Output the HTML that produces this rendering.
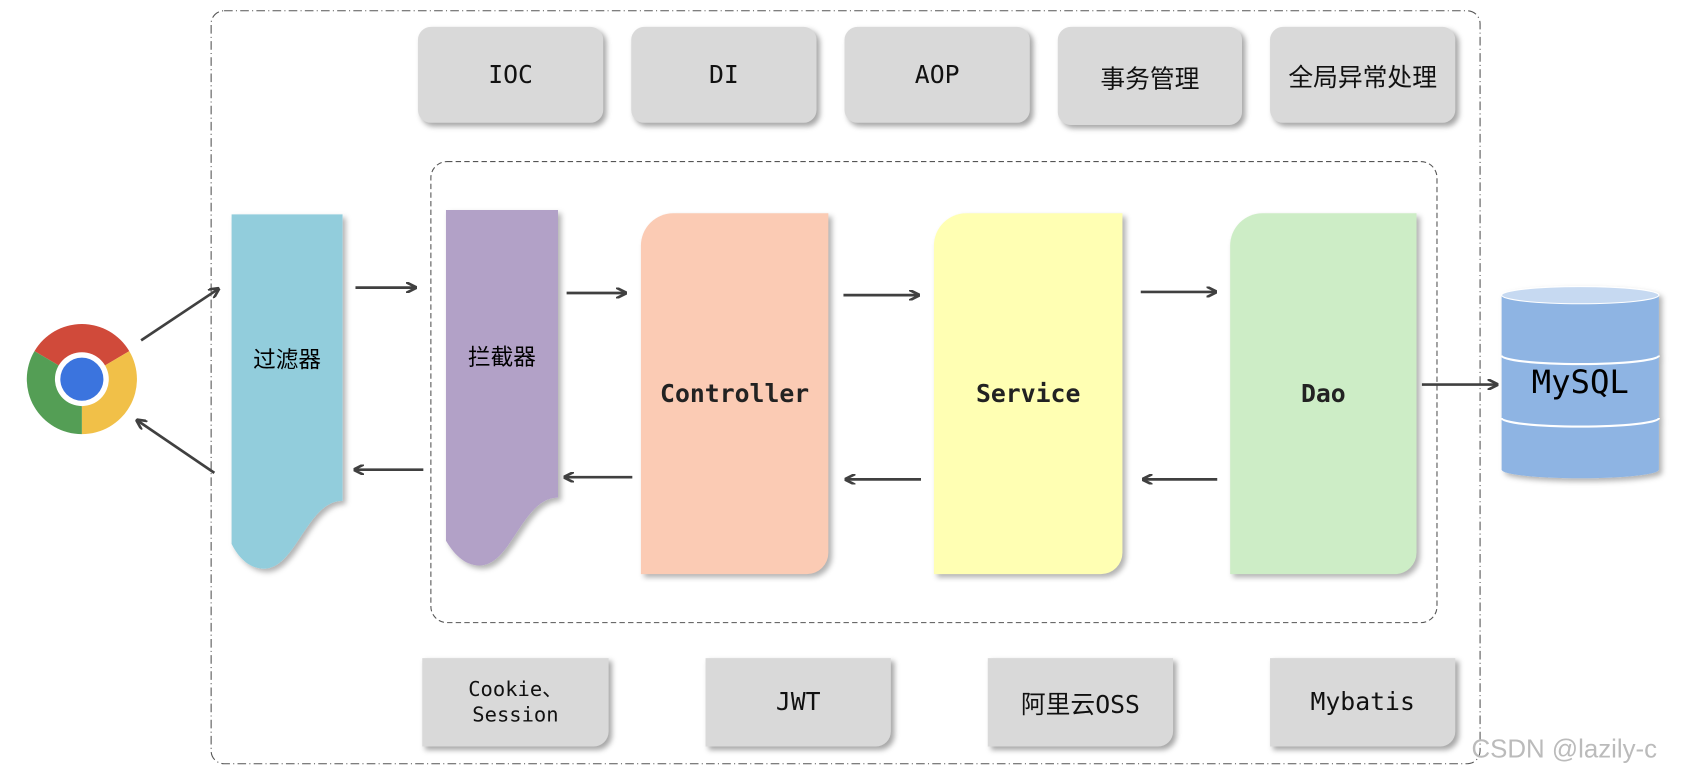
<!DOCTYPE html>
<html><head><meta charset="utf-8"><style>
body{margin:0;background:#fff;width:1689px;height:778px;overflow:hidden}
#w{position:absolute;left:0;top:0;width:1568px;height:722px;transform:scale(1.0772);transform-origin:0 0;font-family:"DejaVu Sans Mono","Liberation Mono","Noto Sans CJK SC",monospace}
.b{position:absolute;background:#d9d9d9;box-shadow:3px 3px 5px rgba(0,0,0,.35);display:flex;align-items:center;justify-content:center;font-size:23px;color:#111;text-align:center}
.t{border-radius:12px}
.bt{border-radius:0 0 14px 0}
.c{position:absolute;display:flex;align-items:center;justify-content:center;font-size:23px;font-weight:bold;color:#222;box-shadow:3px 3px 5px rgba(0,0,0,.3)}
</style></head><body><div id="w">
<svg width="1568" height="722" style="position:absolute;left:0;top:0">
<defs><marker id="a" markerWidth="10" markerHeight="10" refX="9" refY="5" orient="auto" markerUnits="userSpaceOnUse"><path d="M0,0 L10,5 L0,10" fill="none" stroke="#404040" stroke-width="2.5"/></marker>
<filter id="s"><feDropShadow dx="3" dy="3" stdDeviation="2.5" flood-opacity=".3"/></filter></defs>
<rect x="196" y="10" width="1178" height="699" rx="12" fill="none" stroke="#555" stroke-dasharray="8,3,1,3"/>
<rect x="400" y="150" width="934" height="428" rx="15" fill="none" stroke="#555" stroke-dasharray="5,3"/>
<path d="M215,199 H318 V465 C285,465 275,528 245,528 C230,528 220,515 215,505 Z" fill="#92cddc" filter="url(#s)"/>
<path d="M414,195 H518 V462 C485,462 475,525 445,525 C430,525 420,512 414,502 Z" fill="#b2a1c7" filter="url(#s)"/>
<g fill="none" stroke="#404040" stroke-width="2.5" marker-end="url(#a)">
<line x1="131" y1="316" x2="203" y2="268"/><line x1="199" y1="439" x2="127" y2="390"/>
<line x1="330" y1="267" x2="386" y2="267"/><line x1="393" y1="436" x2="329" y2="436"/>
<line x1="526" y1="272" x2="581" y2="272"/><line x1="587" y1="443" x2="524" y2="443"/>
<line x1="783" y1="274" x2="853" y2="274"/><line x1="855" y1="445" x2="785" y2="445"/>
<line x1="1059" y1="271" x2="1129" y2="271"/><line x1="1130" y1="445" x2="1061" y2="445"/>
<line x1="1320" y1="357" x2="1390" y2="357"/></g>
<g filter="url(#s)">
<path d="M1394,274 V436 A73,8 0 0 0 1540,436 V274 Z" fill="#8eb4e3"/>
<ellipse cx="1467" cy="274" rx="73" ry="8" fill="#c6d9f1" stroke="#fff"/>
<path d="M1394,330 A73,8 0 0 0 1540,330 M1394,388 A73,8 0 0 0 1540,388" fill="none" stroke="#fff" stroke-width="2"/>
</g>
<g transform="translate(76,352)">
<path d="M0,0 L-44,-26 A51,51 0 0 1 44,-26 Z" fill="#d04a3a"/>
<path d="M0,0 L44,-26 A51,51 0 0 1 0,51 Z" fill="#f1c048"/>
<path d="M0,0 L0,51 A51,51 0 0 1 -44,-26 Z" fill="#549e55"/>
<circle r="25" fill="#fff"/><circle r="20" fill="#3b74de"/></g>
<text x="1366" y="703" font-family="Liberation Sans" font-size="24" fill="#bbb">CSDN @lazily-c</text>
</svg>
<div class="b t" style="left:388px;top:25px;width:172px;height:89px">IOC</div>
<div class="b t" style="left:586px;top:25px;width:172px;height:89px">DI</div>
<div class="b t" style="left:784px;top:25px;width:172px;height:89px">AOP</div>
<div class="b t" style="left:982px;top:25px;width:171px;height:91px">事务管理</div>
<div class="b t" style="left:1179px;top:25px;width:172px;height:89px">全局异常处理</div>
<div style="position:absolute;left:215px;top:318px;width:103px;text-align:center;font-size:21px">过滤器</div>
<div style="position:absolute;left:414px;top:316px;width:104px;text-align:center;font-size:21px">拦截器</div>
<div class="c" style="left:595px;top:198px;width:174px;height:335px;background:#fbcbb4;border-radius:30px 0 20px 0">Controller</div>
<div class="c" style="left:867px;top:198px;width:175px;height:335px;background:#ffffb3;border-radius:30px 0 20px 0">Service</div>
<div class="c" style="left:1142px;top:198px;width:173px;height:335px;background:#cdedc6;border-radius:30px 0 20px 0">Dao</div>
<div style="position:absolute;left:1394px;top:338px;width:146px;text-align:center;font-size:30px">MySQL</div>
<div class="b bt" style="left:392px;top:611px;width:173px;height:82px;font-size:19px;line-height:24px">Cookie、<br>Session</div>
<div class="b bt" style="left:655px;top:611px;width:172px;height:82px">JWT</div>
<div class="b bt" style="left:917px;top:611px;width:172px;height:82px">阿里云OSS</div>
<div class="b bt" style="left:1179px;top:611px;width:172px;height:82px">Mybatis</div>
</div></body></html>
